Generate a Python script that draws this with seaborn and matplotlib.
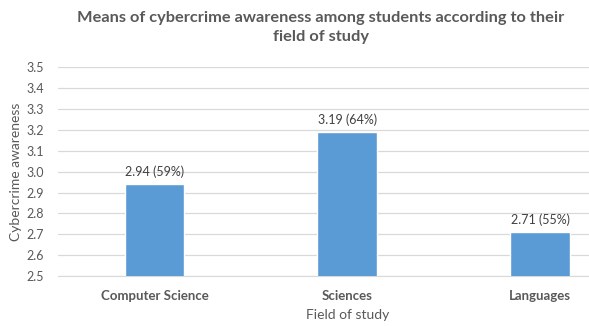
import matplotlib
matplotlib.use("Agg")
import matplotlib.pyplot as plt
import seaborn as sns
import pandas as pd

fields = ["Computer Science", "Sciences", "Languages"]
means = [2.94, 3.19, 2.71]
percents = [59, 64, 55]
yticks = [2.5, 2.6, 2.7, 2.8, 2.9, 3.0, 3.1, 3.2, 3.3, 3.4, 3.5]

df = pd.DataFrame({"field": fields, "mean": means})

sns.set_style("white")
plt.rcParams['font.family'] = ['Lato', 'DejaVu Sans']

fig = plt.figure(figsize=(5.89, 3.26), dpi=100)
ax = fig.add_axes([0.0985, 0.1534, 0.982, 0.6402])

sns.barplot(data=df, x="field", y="mean", color="#5B9BD5", width=0.31,
            saturation=1, ax=ax, zorder=3)

ax.set_ylim(2.5, 3.5)
ax.set_xlim(-0.5, 2.5)
ax.set_yticks(yticks)
ax.set_yticklabels(["{:.1f}".format(t) for t in yticks])
ax.yaxis.grid(True, color="#D9D9D9", linewidth=0.9, zorder=0)
ax.set_axisbelow(True)
for s in ["top", "right", "left"]:
    ax.spines[s].set_visible(False)
ax.spines["bottom"].set_color("#D9D9D9")
ax.tick_params(axis="y", length=0, pad=10, labelsize=9, labelcolor="#595959")
ax.tick_params(axis="x", length=0, pad=10, labelsize=9.5, labelcolor="#595959")
for lab in ax.get_xticklabels():
    lab.set_fontweight("bold")

for i, (m, p) in enumerate(zip(means, percents)):
    ax.text(i, m + 0.03, "{:.2f} ({}%)".format(m, p), ha="center", va="bottom",
            fontsize=9, color="#404040")

ax.set_xlabel("Field of study", fontsize=10, color="#595959", labelpad=5)
ax.set_ylabel("Cybercrime awareness", fontsize=10, color="#595959", labelpad=3)

fig.text(0.545, 0.915, "Means of cybercrime awareness among students according to their\nfield of study",
         ha="center", va="center", fontsize=11.8, fontweight="bold", color="#595959",
         linespacing=1.45)

fig.savefig("out.png", dpi=100)
